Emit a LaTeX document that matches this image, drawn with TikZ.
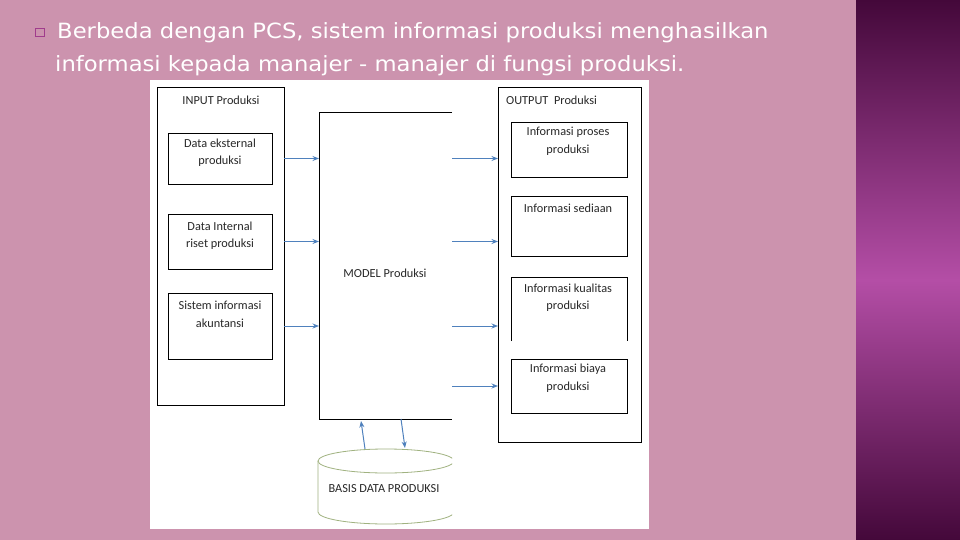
\documentclass[tikz,border=0pt]{standalone}
\usepackage{fontspec}
\setmainfont{Carlito}
\newfontfamily\titlefont[FakeStretch=1.08]{DejaVu Sans}
\usetikzlibrary{arrows.meta}
\definecolor{bgpink}{RGB}{204,147,174}
\definecolor{pdark}{RGB}{68,8,58}
\definecolor{pmid}{RGB}{180,78,166}
\definecolor{arrblue}{RGB}{79,129,189}
\definecolor{cylgreen}{RGB}{160,178,128}
\definecolor{bulletc}{RGB}{160,60,140}
\definecolor{dtext}{RGB}{40,40,40}
\begin{document}
\begin{tikzpicture}[x=1pt,y=-1pt,
  box/.style={draw=black, line width=0.9pt, inner sep=0pt, outer sep=0pt},
  area/.style={inner sep=0pt, outer sep=0pt},
  txt/.style={inner sep=0pt, text=dtext, align=center, font=\fontsize{12.3}{17.5}\selectfont},
  arr/.style={draw=arrblue, line width=1pt, -{Stealth[length=6.5pt,width=5pt]}},
  cyl/.style={draw=cylgreen, line width=0.8pt},
  title/.style={anchor=base west, inner sep=0pt, text=white, font=\titlefont\fontsize{21}{33}\selectfont}]
\useasboundingbox (0,0) rectangle (960,540);
\fill[bgpink] (0,0) rectangle (960,540);
\shade[top color=pdark, bottom color=pmid] (856,0) rectangle (960,280);
\shade[top color=pmid, bottom color=pdark] (856,280) rectangle (960,540);
% title
\node[draw=bulletc, line width=0.8pt, minimum size=8.5pt, inner sep=0pt] (bul) at (40,32.5) {};
\node[title] (t1) at (57,39) {Berbeda dengan PCS, sistem informasi produksi menghasilkan};
\node[title] (t2) at (55,72) {informasi kepada manajer - manajer di fungsi produksi.};
% white picture area
\fill[white] (150,80) rectangle (649,529);
% input column
\node[box, minimum width=127pt, minimum height=318pt] (input) at (220.5,246) {};
\node[txt] (inlbl) at (221,100) {INPUT Produksi};
\node[box, minimum width=104pt, minimum height=51pt] (de) at (220,158.5) {};
\node[txt] at (220,152.5) {Data eksternal\\produksi};
\node[box, minimum width=104pt, minimum height=55pt] (di) at (220,241.5) {};
\node[txt] at (220,235.5) {Data Internal\\riset produksi};
\node[box, minimum width=104pt, minimum height=66pt] (si) at (220,326) {};
\node[txt] at (220,314.5) {Sistem informasi\\akuntansi};
% model
\node[area, minimum width=133pt, minimum height=307pt] (model) at (385.5,265.5) {};
\draw[line width=0.9pt] (model.north east) -- (model.north west) -- (model.south west) -- (model.south east);
\node[txt] (mlbl) at (385,273) {MODEL Produksi};
% output column
\node[box, minimum width=143pt, minimum height=355pt] (output) at (569.5,264.5) {};
\node[txt, anchor=west] (outlbl) at (506,100) {OUTPUT\ \ Produksi};
\node[box, minimum width=116pt, minimum height=55pt] (ip) at (569,149.5) {};
\node[txt] at (568,141.5) {Informasi proses\\produksi};
\node[box, minimum width=116pt, minimum height=60pt] (isd) at (569,226) {};
\node[txt] at (568,208) {Informasi sediaan};
\node[area, minimum width=116pt, minimum height=64pt] (ik) at (569,309) {};
\draw[line width=0.9pt] (ik.south west) -- (ik.north west) -- (ik.north east) -- (ik.south east);
\node[txt] at (568,297.5) {Informasi kualitas\\produksi};
\node[box, minimum width=116pt, minimum height=54pt] (ib) at (569,386) {};
\node[txt] at (568,378) {Informasi biaya\\produksi};
% arrows input -> model
\draw[arr] (de.east -| input.east) -- (de.east -| model.west);
\draw[arr] (di.east -| input.east) -- (di.east -| model.west);
\draw[arr] (si.east -| input.east) -- (si.east -| model.west);
% arrows model -> output
\draw[arr] (de.east -| model.east) -- (de.east -| output.west);
\draw[arr] (di.east -| model.east) -- (di.east -| output.west);
\draw[arr] (si.east -| model.east) -- (si.east -| output.west);
\draw[arr] (ib.west -| model.east) -- (ib.west -| output.west);
% database cylinder (clipped at the right like the picture)
\node[area, minimum width=136pt, minimum height=75pt] (db) at (386,486) {};
\begin{scope}
  \clip (300,440) rectangle (452,530);
  \draw[cyl] (386,461) ellipse [x radius=68, y radius=12];
  \draw[cyl] (318,461) -- (318,512) arc[start angle=180, end angle=0, x radius=68, y radius=12] -- (454,461);
\end{scope}
\node[txt] (dblbl) at (384,489) {BASIS DATA PRODUKSI};
\coordinate (upA) at (365,449);
\coordinate (upB) at (361,421);
\coordinate (dnA) at (401,419);
\coordinate (dnB) at (405,448);
\draw[arr] (upA) -- (upB);
\draw[arr] (dnA) -- (dnB);
\end{tikzpicture}
\end{document}
